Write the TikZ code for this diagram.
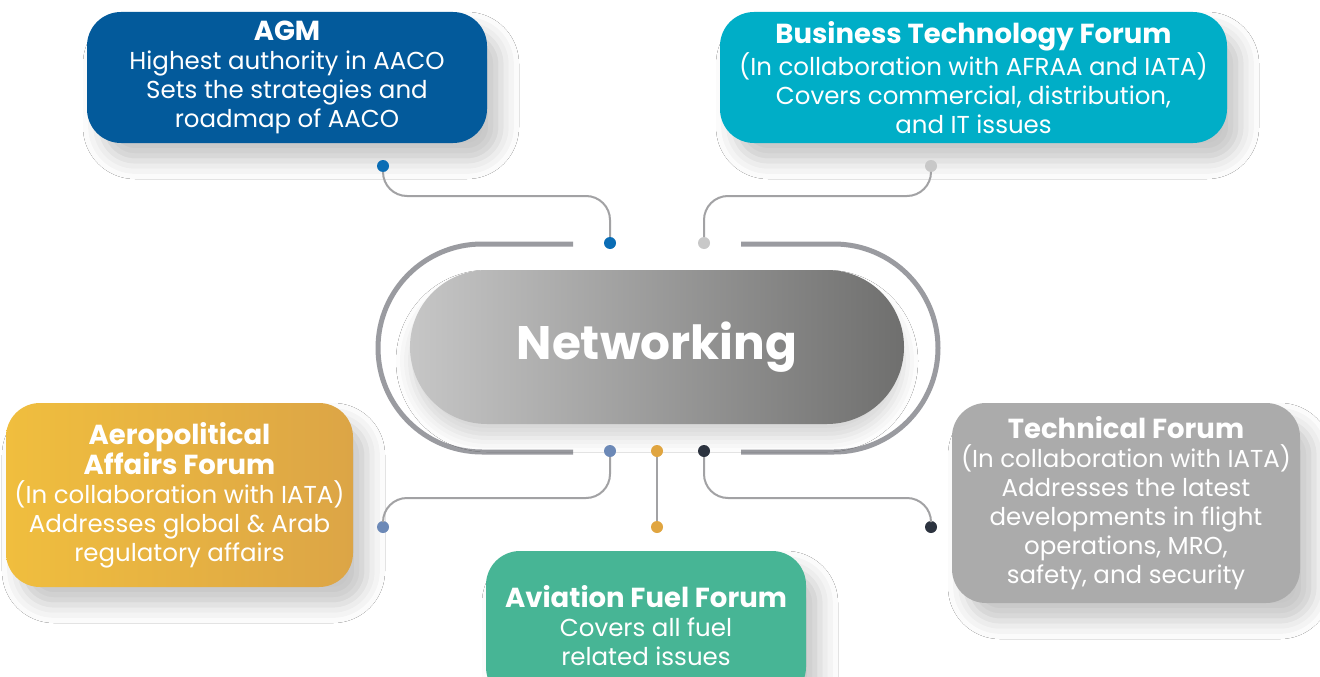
\documentclass[tikz,border=0pt]{standalone}
\usepackage{fontspec}
\setmainfont{Poppins}
\usetikzlibrary{positioning,shadows.blur}
\definecolor{agmblue}{HTML}{035A9B}
\definecolor{btfcyan}{HTML}{00AEC7}
\definecolor{aeroL}{HTML}{F0BE3E}
\definecolor{aeroR}{HTML}{DCA546}
\definecolor{affgreen}{HTML}{47B595}
\definecolor{techgray}{HTML}{ABABAB}
\definecolor{pillL}{HTML}{C6C6C6}
\definecolor{pillR}{HTML}{6F6F6E}
\definecolor{ringgray}{HTML}{9A9BA0}
\definecolor{wiregray}{HTML}{A2A2A4}
\definecolor{dotA}{HTML}{0A6DB5}
\definecolor{dotB}{HTML}{C8C8C8}
\definecolor{dotC}{HTML}{6C89B7}
\definecolor{dotD}{HTML}{E0A540}
\definecolor{dotE}{HTML}{2C333F}
\tikzset{
  forum/.style={rounded corners=34pt, text=white, align=center, inner sep=0pt,
    font=\fontsize{24.5}{29}\selectfont,
    blur shadow={shadow xshift=14pt, shadow yshift=-18pt, shadow blur radius=18pt, shadow opacity=22}},
  pill/.style={minimum width=494pt, minimum height=154pt, rounded corners=77pt,
    shading=axis, left color=pillL, right color=pillR, text=white,
    font=\fontsize{47}{50}\selectfont\bfseries,
    blur shadow={shadow xshift=0pt, shadow yshift=-14pt, shadow blur radius=14pt, shadow opacity=16}},
  ring/.style={ringgray, line width=5pt},
  wire/.style={wiregray, line width=2pt, rounded corners=24pt},
  dot/.style={circle, fill=#1, inner sep=0pt, minimum size=12pt}
}
\newcommand{\ttl}[1]{{\fontsize{27.5}{31}\selectfont\bfseries #1}}
\begin{document}
\begin{tikzpicture}[x=1pt,y=-1pt]
\useasboundingbox (0,0) rectangle (1320,677);
\fill[white] (0,0) rectangle (1320,677);

% forums
\node[forum, fill=agmblue, minimum width=400pt, minimum height=131pt] (agm) at (287,77.5)
  {\ttl{AGM}\\Highest authority in AACO\\Sets the strategies and\\roadmap of AACO};
\node[forum, fill=btfcyan, minimum width=507pt, minimum height=131pt] (btf) at (973.5,77.5)
  {\ttl{Business Technology Forum}\\(In collaboration with AFRAA and IATA)\\Covers commercial, distribution,\\and IT issues};
\node[forum, left color=aeroL, right color=aeroR, minimum width=347pt, minimum height=184pt] (aero) at (179.5,495)
  {\ttl{Aeropolitical}\\\ttl{Affairs Forum}\\(In collaboration with IATA)\\Addresses global \& Arab\\regulatory affairs};
\node[forum, fill=affgreen, minimum width=320pt, minimum height=150pt] (aff) at (646,626)
  {\ttl{Aviation Fuel Forum}\\Covers all fuel\\related issues};
\node[forum, fill=techgray, minimum width=348pt, minimum height=200pt] (tech) at (1126,503)
  {\ttl{Technical Forum}\\(In collaboration with IATA)\\Addresses the latest\\developments in flight\\operations, MRO,\\safety, and security};

% ring and hub
\draw[ring] (573,244) -- (482,244) arc[start angle=270, end angle=90, radius=104] -- (573,452);
\draw[ring] (741,244) -- (834,244) arc[start angle=-90, end angle=90, radius=104] -- (741,452);
\node[pill] (hub) at (657,347) {Networking};

% dots
\node[dot=dotA] (pA) at (383,166) {};
\node[dot=dotA] (hA) at (610,243) {};
\node[dot=dotB] (pB) at (931,166) {};
\node[dot=dotB] (hB) at (704,243) {};
\node[dot=dotC] (hC) at (610,451) {};
\node[dot=dotC] (pC) at (383,527) {};
\node[dot=dotD] (hD) at (657,451) {};
\node[dot=dotD] (pD) at (657,527) {};
\node[dot=dotE] (hE) at (704,451) {};
\node[dot=dotE] (pE) at (931,527) {};

% connectors
\coordinate (kA) at (500,196);
\coordinate (kB) at (800,196);
\coordinate (kC) at (500,498);
\coordinate (kE) at (800,498);
\draw[wire] (pA.south) |- (kA) -| (hA.north);
\draw[wire] (pB.south) |- (kB) -| (hB.north);
\draw[wire] (hC.south) |- (kC) -| (pC.north);
\draw[wire] (hD.south) -- (pD.north);
\draw[wire] (hE.south) |- (kE) -| (pE.north);
\end{tikzpicture}
\end{document}
